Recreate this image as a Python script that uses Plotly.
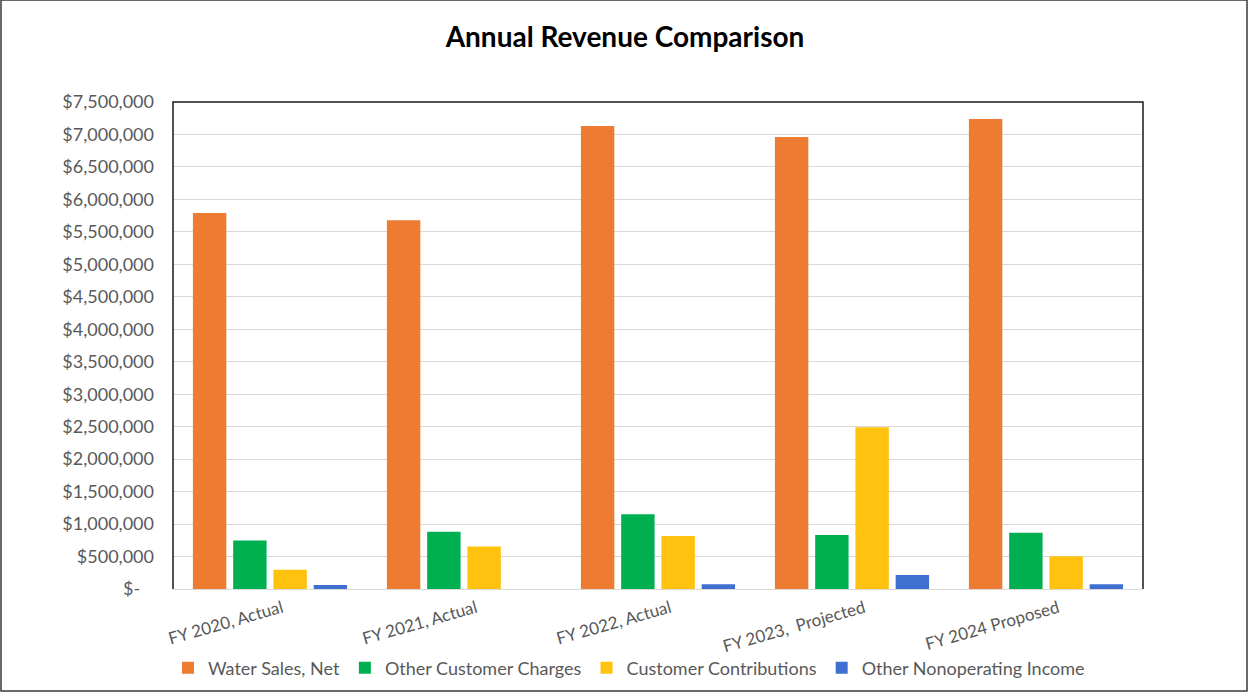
import plotly.graph_objects as go

categories = ["FY 2020, Actual", "FY 2021, Actual", "FY 2022, Actual", "FY 2023,  Projected", "FY 2024 Proposed"]
water_sales = [5790000, 5680000, 7130000, 6960000, 7240000]
other_charges = [745000, 880000, 1150000, 830000, 865000]
contributions = [295000, 655000, 815000, 2490000, 505000]
nonoperating = [60000, 0, 75000, 215000, 75000]

series_names = ["Water Sales, Net", "Other Customer Charges", "Customer Contributions", "Other Nonoperating Income"]
series_values = [water_sales, other_charges, contributions, nonoperating]
series_colors = ["#EE7B32", "#00B050", "#FFC20E", "#3F6FD1"]

tick_vals = list(range(0, 7500001, 500000))
tick_text = ["$-\u00a0\u00a0\u00a0"] + [f"${v:,}" for v in tick_vals[1:]]

fig = go.Figure()
for name, vals, col in zip(series_names, series_values, series_colors):
    fig.add_trace(go.Bar(x=categories, y=vals, name=name, marker=dict(color=col, line=dict(width=0))))

FONT = "Lato, 'Open Sans', sans-serif"
L, R, T, B = 173, 105, 102, 103
W, H = 1248, 692
pw, ph = W - L - R, H - T - B

fig.update_layout(
    width=W, height=H,
    margin=dict(l=L, r=R, t=T, b=B, autoexpand=False),
    paper_bgcolor="white", plot_bgcolor="white",
    barmode="group", bargap=0.17, bargroupgap=0.17,
    title=dict(text="<b>Annual Revenue Comparison</b>", x=625 / W, xanchor="center",
               xref="container", yref="container", y=1 - 37 / H, yanchor="middle",
               font=dict(family=FONT, size=28, color="#000000")),
    font=dict(family=FONT, size=17, color="#595959"),
    legend=dict(orientation="h", x=629 / W, xref="container", xanchor="center",
                y=(T + ph - 668) / ph, yanchor="middle", bgcolor="rgba(0,0,0,0)",
                font=dict(family=FONT, size=18, color="#595959"),
                itemwidth=30, tracegroupgap=0, traceorder="normal"),
    xaxis=dict(showgrid=False, showline=True, linecolor="#D9D9D9", linewidth=1,
               tickangle=-16, ticks="", ticklabelstandoff=2, ticklabelshift=12,
               tickfont=dict(family=FONT, size=17, color="#595959")),
    yaxis=dict(range=[0, 7500000], tickvals=tick_vals, ticktext=tick_text,
               showgrid=True, gridcolor="#D9D9D9", gridwidth=1, zeroline=False,
               showline=False, ticks="", ticklen=0, ticklabelstandoff=18,
               tickfont=dict(family=FONT, size=18, color="#595959")),
    shapes=[
        dict(type="path", xref="paper", yref="paper",
             path="M 0 0 L 0 1 L 1 1 L 1 0", line=dict(color="#1a1a1a", width=1.5), layer="above"),
        dict(type="rect", xref="paper", yref="paper",
             x0=-(L - 1) / pw, x1=(W - L - 1) / pw,
             y0=-(B - 1) / ph, y1=(H - T - 1) / ph,
             line=dict(color="#3a3a3a", width=1.5), layer="above"),
    ],
)

fig.write_html("out.html", config={"displayModeBar": False},
               post_script="document.body.style.margin='0';document.body.style.overflow='hidden';")
